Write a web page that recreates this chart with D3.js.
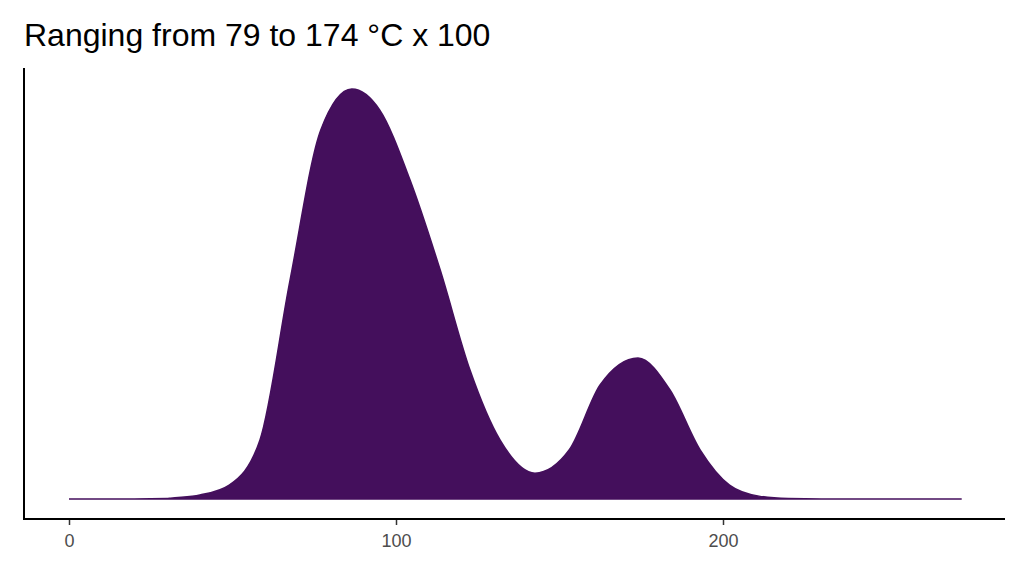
<!DOCTYPE html><html><head><meta charset="utf-8"><script src="https://cdn.jsdelivr.net/npm/d3@7"></script>
<style>body{margin:0;background:#fff}</style></head><body><svg id="c" width="1024" height="576"></svg>
<script>
const xs=[0,20,30,31,40,49,58.4,67.6,77,86.5,95,104.3,113.5,122.6,131.8,142.5,153,162.4,174,183.8,193,202,211,220,230,250,273];
const ys=[0,0,0.1,0.2,0.98,3.4,14.4,53.4,90,100,94.9,77.8,55.9,31.5,14.4,6.3,12,27.8,34.4,26.6,12,3.4,0.7,0.1,0,0,0];
const xTicks=[0,100,200];
const title="Ranging from 79 to 174 °C x 100";
const svg=d3.select("#c");
const x=d3.scaleLinear().domain([0,200]).range([69,723]);
const y=d3.scaleLinear().domain([0,100]).range([499,89]);
const data=xs.map((d,i)=>[d,ys[i]]);
svg.append("path").datum(data).attr("fill","#440f5c").attr("stroke","#440f5c").attr("stroke-width",1.5)
 .attr("d",d3.area().x(d=>x(d[0])).y0(y(0)).y1(d=>y(d[1])).curve(d3.curveMonotoneX));
svg.append("line").attr("x1",24).attr("x2",24).attr("y1",68).attr("y2",520).attr("stroke","#000").attr("stroke-width",2);
const ax=svg.append("g").attr("transform","translate(0,519)").call(d3.axisBottom(x).tickValues(xTicks).tickSize(6).tickSizeOuter(0));
ax.select(".domain").remove();
svg.append("line").attr("x1",23).attr("x2",1005).attr("y1",519).attr("y2",519).attr("stroke","#000").attr("stroke-width",2);
ax.selectAll(".tick line").attr("stroke","#333").attr("stroke-width",1.5);
ax.selectAll("text").attr("font-family","Liberation Sans, Arial").attr("font-size",18).attr("fill","#4d4d4d").attr("dy","1.05em");
svg.append("text").attr("x",24).attr("y",46).attr("font-family","Liberation Sans, Arial").attr("font-size",32).attr("fill","#000").text(title);
</script></body></html>
